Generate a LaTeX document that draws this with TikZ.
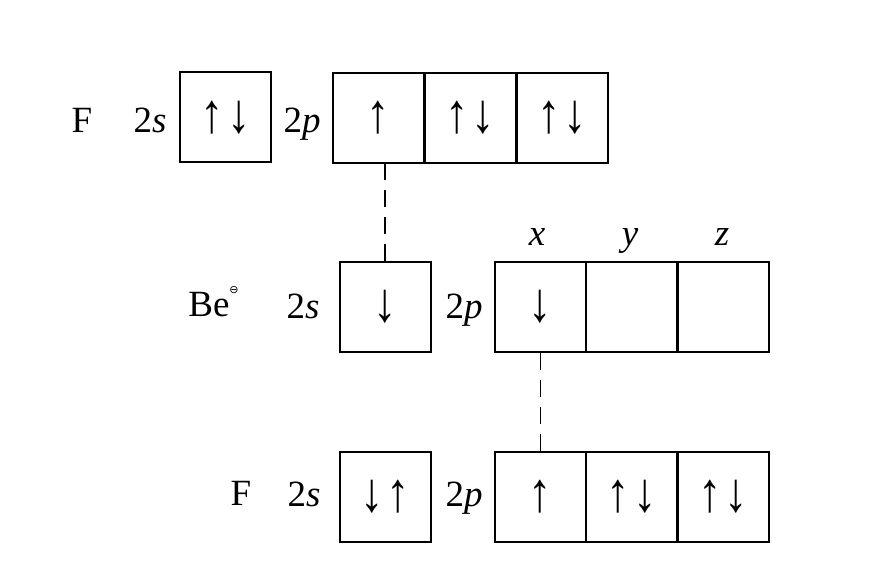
\documentclass[tikz,border=0pt]{standalone}
\usepackage{graphicx}
\usepackage{fontspec}
\setmainfont{Liberation Serif}
\newfontfamily\symfont{DejaVu Sans}
\newcommand{\up}{\scalebox{1.3}[1.55]{↑}}
\newcommand{\dn}{\scalebox{1.3}[1.55]{↓}}
\newcommand{\sep}{\hspace{3pt}}
\begin{document}
\begin{tikzpicture}[x=1pt,y=-1pt,
  orb/.style={draw=black,line width=2pt,minimum width=91pt,minimum height=90pt,inner sep=0pt,font=\fontsize{36}{36}\selectfont},
  lbl/.style={anchor=base,inner sep=0pt,font=\fontsize{37}{37}\selectfont},
  pair/.style={line width=1.8pt,dash pattern=on 17pt off 10pt}]
\useasboundingbox (0,0) rectangle (888,572);
% top row: F
\node[lbl] (fa) at (82,133) {F};
\node[lbl] (fa2s) at (150,133) {2\textit{s}};
\node[orb] (fas) at (225.5,117.5) {\up\sep\dn};
\node[lbl] (fa2p) at (302,133) {2\textit{p}};
\node[orb] (fap1) at (378,118) {\up};
\node[orb] (fap2) at (470,118) {\up\sep\dn};
\node[orb] (fap3) at (562,118) {\up\sep\dn};
% middle row: Be
\node[lbl] (be) at (209,316) {Be};
\node[inner sep=0pt,font=\fontsize{11}{11}\selectfont\symfont] (becharge) at (234,290) {⊖};
\node[lbl] (be2s) at (303,318) {2\textit{s}};
\node[orb] (bes) at (385,307) {\dn};
\node[lbl] (be2p) at (464,318) {2\textit{p}};
\node[orb] (bep1) at (540.5,307) {\dn};
\node[orb] (bep2) at (631.5,307) {};
\node[orb] (bep3) at (723,307) {};
\node[lbl] (lx) at (537,245) {\textit{x}};
\node[lbl] (ly) at (630,245) {\textit{y}};
\node[lbl] (lz) at (722,245) {\textit{z}};
% bottom row: F
\node[lbl] (fb) at (241,505) {F};
\node[lbl] (fb2s) at (304,506) {2\textit{s}};
\node[orb] (fbs) at (385,497) {\dn\sep\up};
\node[lbl] (fb2p) at (464,506) {2\textit{p}};
\node[orb] (fbp1) at (540.5,497) {\up};
\node[orb] (fbp2) at (631.5,497) {\up\sep\dn};
\node[orb] (fbp3) at (723,497) {\up\sep\dn};
% bonds
\draw[pair] (bes.north) -- (bes.north |- fap1.south);
\draw[pair] (bep1.south) -- (fbp1.north);
\end{tikzpicture}
\end{document}
